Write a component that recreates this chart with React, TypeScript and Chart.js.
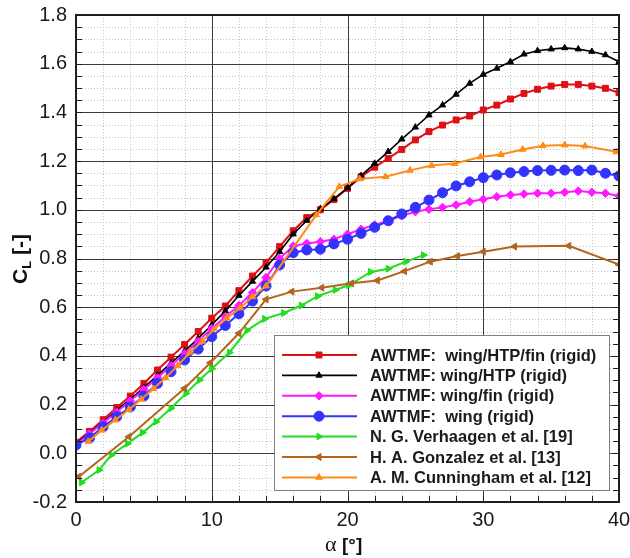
import React, { useEffect, useRef } from 'react';
import { Chart, registerables } from 'chart.js';

Chart.register(...registerables);

// ---------- data ----------
const ALPHA_AWTMF = [0, 1, 2, 3, 4, 5, 6, 7, 8, 9, 10, 11, 12, 13, 14, 15, 16, 17, 18, 19, 20, 21, 22, 23, 24, 25, 26, 27, 28, 29, 30, 31, 32, 33, 34, 35, 36, 37, 38, 39, 40];

const CL_WING_HTP_FIN = [0.045, 0.09, 0.138, 0.188, 0.235, 0.287, 0.342, 0.395, 0.447, 0.5, 0.555, 0.605, 0.668, 0.728, 0.783, 0.849, 0.914, 0.968, 1.0, 1.042, 1.088, 1.136, 1.175, 1.211, 1.248, 1.287, 1.321, 1.348, 1.369, 1.385, 1.41, 1.43, 1.455, 1.478, 1.495, 1.508, 1.515, 1.515, 1.508, 1.499, 1.481];

const CL_WING_HTP = [0.04, 0.083, 0.128, 0.177, 0.222, 0.27, 0.32, 0.37, 0.42, 0.472, 0.527, 0.585, 0.648, 0.706, 0.764, 0.828, 0.9, 0.956, 1.004, 1.045, 1.09, 1.14, 1.19, 1.239, 1.29, 1.339, 1.389, 1.43, 1.474, 1.519, 1.556, 1.581, 1.608, 1.639, 1.653, 1.66, 1.665, 1.66, 1.65, 1.636, 1.608];

const CL_WING_FIN = [0.035, 0.08, 0.125, 0.17, 0.215, 0.262, 0.31, 0.36, 0.41, 0.46, 0.513, 0.561, 0.607, 0.66, 0.722, 0.8, 0.851, 0.862, 0.869, 0.879, 0.9, 0.92, 0.938, 0.955, 0.975, 0.992, 1.002, 1.01, 1.02, 1.033, 1.043, 1.054, 1.061, 1.065, 1.068, 1.068, 1.072, 1.077, 1.072, 1.068, 1.057];

const CL_WING = [0.034, 0.063, 0.109, 0.15, 0.19, 0.235, 0.287, 0.335, 0.383, 0.428, 0.479, 0.525, 0.573, 0.625, 0.687, 0.773, 0.824, 0.835, 0.838, 0.86, 0.879, 0.903, 0.928, 0.955, 0.983, 1.01, 1.04, 1.07, 1.098, 1.115, 1.132, 1.143, 1.152, 1.157, 1.161, 1.162, 1.163, 1.161, 1.163, 1.15, 1.139];

const ALPHA_VERHAAGEN = [0.4, 1.7, 2.6, 3.8, 4.9, 5.9, 7.0, 8.1, 9.1, 10.0, 11.3, 12.6, 13.9, 15.3, 16.6, 17.8, 19.1, 20.1, 21.7, 23.0, 24.3, 25.6];
const CL_VERHAAGEN = [-0.12, -0.069, -0.007, 0.04, 0.085, 0.13, 0.185, 0.246, 0.301, 0.347, 0.414, 0.505, 0.552, 0.576, 0.607, 0.645, 0.671, 0.69, 0.745, 0.758, 0.787, 0.814];

const ALPHA_GONZALEZ = [0.2, 3.9, 8.0, 9.9, 12.0, 14.0, 15.9, 18.1, 20.3, 22.2, 24.2, 26.1, 28.1, 30.0, 32.3, 36.3, 40.0];
const CL_GONZALEZ = [-0.096, 0.068, 0.267, 0.372, 0.493, 0.632, 0.664, 0.68, 0.698, 0.71, 0.748, 0.787, 0.81, 0.828, 0.849, 0.852, 0.775];

const ALPHA_CUNNINGHAM = [0.9, 1.9, 2.9, 3.9, 4.8, 5.7, 6.6, 7.5, 8.4, 9.3, 10.2, 11.1, 12.1, 13.0, 14.0, 17.7, 19.4, 20.9, 22.8, 24.6, 26.2, 27.9, 29.8, 31.3, 32.9, 34.4, 36.0, 37.5, 39.8];
const CL_CUNNINGHAM = [0.048, 0.095, 0.137, 0.18, 0.222, 0.265, 0.31, 0.36, 0.415, 0.46, 0.51, 0.555, 0.597, 0.643, 0.687, 0.979, 1.095, 1.127, 1.136, 1.162, 1.182, 1.19, 1.217, 1.227, 1.248, 1.263, 1.266, 1.262, 1.238];

const SERIES_LABELS = [
  'AWTMF:  wing/HTP/fin (rigid)',
  'AWTMF: wing/HTP (rigid)',
  'AWTMF: wing/fin (rigid)',
  'AWTMF:  wing (rigid)',
  'N. G. Verhaagen et al. [19]',
  'H. A. Gonzalez et al. [13]',
  'A. M. Cunningham et al. [12]',
];

const X_MIN = 0;
const X_MAX = 40;
const Y_MIN = -0.2;
const Y_MAX = 1.8;

// ---------- styles ----------
type Style = { color: string; point: string; rot: number; r: number; lw: number };
const STYLES: Style[] = [
  { color: '#dd1016', point: 'rect', rot: 0, r: 4.2, lw: 2 },
  { color: '#000000', point: 'triangle', rot: 0, r: 3.6, lw: 1.6 },
  { color: '#ff19ff', point: 'rectRot', rot: 0, r: 4.2, lw: 2 },
  { color: '#3333ff', point: 'circle', rot: 0, r: 5, lw: 2 },
  { color: '#22dd22', point: 'triangle', rot: 90, r: 4, lw: 2 },
  { color: '#b3651e', point: 'triangle', rot: -90, r: 4, lw: 2 },
  { color: '#ff8c1a', point: 'triangle', rot: 0, r: 3.8, lw: 2 },
];

const SERIES_X = [ALPHA_AWTMF, ALPHA_AWTMF, ALPHA_AWTMF, ALPHA_AWTMF, ALPHA_VERHAAGEN, ALPHA_GONZALEZ, ALPHA_CUNNINGHAM];
const SERIES_Y = [CL_WING_HTP_FIN, CL_WING_HTP, CL_WING_FIN, CL_WING, CL_VERHAAGEN, CL_GONZALEZ, CL_CUNNINGHAM];

const FONT = '"Liberation Sans", Arial, Helvetica, sans-serif';

// target plot frame (pixels)
const AREA = { left: 76, top: 15, right: 619, bottom: 502 };

function drawMarker(ctx: CanvasRenderingContext2D, st: Style, x: number, y: number) {
  ctx.save();
  ctx.fillStyle = st.color;
  ctx.strokeStyle = st.color;
  ctx.lineWidth = 1;
  ctx.translate(x, y);
  ctx.rotate((st.rot * Math.PI) / 180);
  ctx.beginPath();
  const r = st.r;
  if (st.point === 'rect') {
    const s = Math.SQRT1_2 * r;
    ctx.rect(-s, -s, 2 * s, 2 * s);
  } else if (st.point === 'rectRot') {
    ctx.moveTo(-r, 0);
    ctx.lineTo(0, -r);
    ctx.lineTo(r, 0);
    ctx.lineTo(0, r);
    ctx.closePath();
  } else if (st.point === 'circle') {
    ctx.arc(0, 0, r, 0, Math.PI * 2);
  } else {
    for (let k = 0; k < 3; k++) {
      const a = -Math.PI / 2 + (k * 2 * Math.PI) / 3;
      const px = Math.cos(a) * r;
      const py = Math.sin(a) * r;
      if (k === 0) ctx.moveTo(px, py);
      else ctx.lineTo(px, py);
    }
    ctx.closePath();
  }
  ctx.fill();
  ctx.stroke();
  ctx.restore();
}

const framePlugin = {
  id: 'tecplotFrame',
  beforeDatasetsDraw(chart: any) {
    const { ctx, chartArea: a, scales } = chart;
    const xs = scales.x;
    const ys = scales.y;
    ctx.save();
    ctx.beginPath();
    ctx.rect(a.left, a.top, a.right - a.left, a.bottom - a.top);
    ctx.clip();
    ctx.strokeStyle = '#c6c6c6';
    ctx.lineWidth = 1;
    ctx.setLineDash([1, 2]);
    for (let v = X_MIN + 2; v < X_MAX; v += 2) {
      if (v % 10 === 0) continue;
      const p = Math.round(xs.getPixelForValue(v)) + 0.5;
      ctx.beginPath();
      ctx.moveTo(p, a.top);
      ctx.lineTo(p, a.bottom);
      ctx.stroke();
    }
    for (let k = 1; k < 40; k++) {
      if (k % 4 === 0) continue;
      const v = Y_MIN + k * 0.05;
      const p = Math.round(ys.getPixelForValue(v)) + 0.5;
      ctx.beginPath();
      ctx.moveTo(a.left, p);
      ctx.lineTo(a.right, p);
      ctx.stroke();
    }
    ctx.setLineDash([]);
    ctx.strokeStyle = '#3c3c3c';
    for (let v = 10; v < X_MAX; v += 10) {
      const p = Math.round(xs.getPixelForValue(v)) + 0.5;
      ctx.beginPath();
      ctx.moveTo(p, a.top);
      ctx.lineTo(p, a.bottom);
      ctx.stroke();
    }
    for (let k = 1; k < 10; k++) {
      const v = Y_MIN + k * 0.2;
      const p = Math.round(ys.getPixelForValue(v)) + 0.5;
      ctx.beginPath();
      ctx.moveTo(a.left, p);
      ctx.lineTo(a.right, p);
      ctx.stroke();
    }
    ctx.restore();
  },
  afterDatasetsDraw(chart: any) {
    const { ctx, chartArea: a, scales } = chart;
    const xs = scales.x;
    const ys = scales.y;
    ctx.save();
    ctx.strokeStyle = '#1e1e1e';
    ctx.lineWidth = 1;
    for (let k = 1; k < 40; k++) {
      const v = Y_MIN + k * 0.05;
      const p = Math.round(ys.getPixelForValue(v)) + 0.5;
      ctx.beginPath();
      ctx.moveTo(a.left, p);
      ctx.lineTo(a.left + 6, p);
      ctx.moveTo(a.right, p);
      ctx.lineTo(a.right - 6, p);
      ctx.stroke();
    }
    for (let v = X_MIN + 2; v < X_MAX; v += 2) {
      const p = Math.round(xs.getPixelForValue(v)) + 0.5;
      ctx.beginPath();
      ctx.moveTo(p, a.bottom);
      ctx.lineTo(p, a.bottom - 6);
      ctx.stroke();
    }
    ctx.lineWidth = 2;
    ctx.strokeStyle = '#1e1e1e';
    ctx.strokeRect(a.left, a.top, a.right - a.left, a.bottom - a.top);
    ctx.restore();
  },
  afterDraw(chart: any) {
    const { ctx } = chart;
    ctx.save();
    const bx = 274;
    const by = 335;
    const bw = 335;
    const bh = 155;
    ctx.fillStyle = '#ffffff';
    ctx.fillRect(bx, by, bw, bh);
    ctx.strokeStyle = '#808080';
    ctx.lineWidth = 1;
    ctx.strokeRect(bx + 0.5, by + 0.5, bw, bh);
    ctx.font = 'bold 16.5px ' + FONT;
    ctx.textBaseline = 'middle';
    ctx.textAlign = 'left';
    for (let i = 0; i < SERIES_LABELS.length; i++) {
      const st = STYLES[i];
      const yy = 355 + i * 20.4;
      ctx.strokeStyle = st.color;
      ctx.lineWidth = st.lw;
      ctx.beginPath();
      ctx.moveTo(282, yy);
      ctx.lineTo(357, yy);
      ctx.stroke();
      drawMarker(ctx, st, 319, yy);
      ctx.fillStyle = '#1a1a1a';
      ctx.fillText(SERIES_LABELS[i], 370, yy + 1);
    }
    ctx.save();
    ctx.translate(20, 259);
    ctx.rotate(-Math.PI / 2);
    ctx.fillStyle = '#111';
    ctx.textBaseline = 'alphabetic';
    const bigFont = 'bold 21px ' + FONT;
    const smallFont = 'bold 13px ' + FONT;
    ctx.font = bigFont;
    const wC = ctx.measureText('C').width;
    const wB = ctx.measureText(' [-]').width;
    ctx.font = smallFont;
    const wL = ctx.measureText('L').width;
    const total = wC + wL + wB;
    let sx = -total / 2;
    ctx.font = bigFont;
    ctx.fillText('C', sx, 7);
    sx += wC;
    ctx.font = smallFont;
    ctx.fillText('L', sx, 11);
    sx += wL;
    ctx.font = bigFont;
    ctx.fillText(' [-]', sx, 7);
    ctx.restore();
    ctx.fillStyle = '#111';
    ctx.textBaseline = 'alphabetic';
    ctx.textAlign = 'left';
    ctx.font = '22px "Liberation Serif", "Times New Roman", serif';
    ctx.fillText('α', 325, 551);
    ctx.font = 'bold 19px ' + FONT;
    ctx.fillText('[°]', 342, 551);
    ctx.restore();
  },
};

export default function App() {
  const canvasRef = useRef<HTMLCanvasElement | null>(null);

  useEffect(() => {
    const canvas = canvasRef.current;
    if (!canvas) return;
    const datasets = SERIES_LABELS.map((label, i) => {
      const st = STYLES[i];
      return {
        label,
        data: SERIES_X[i].map((x, j) => ({ x, y: SERIES_Y[i][j] })),
        borderColor: st.color,
        backgroundColor: st.color,
        borderWidth: st.lw,
        pointStyle: st.point,
        pointRotation: st.rot,
        pointRadius: st.r,
        pointBorderWidth: 1,
        pointBackgroundColor: st.color,
        pointBorderColor: st.color,
        tension: 0,
        fill: false,
        order: SERIES_LABELS.length - i,
      };
    });
    const chart = new Chart(canvas, {
      type: 'line',
      data: { datasets },
      plugins: [framePlugin],
      options: {
        animation: false,
        responsive: false,
        maintainAspectRatio: false,
        devicePixelRatio: 1,
        layout: { padding: { left: 0, top: 0, right: 0, bottom: 0 } },
        plugins: { legend: { display: false }, tooltip: { enabled: false } },
        scales: {
          x: {
            type: 'linear',
            min: X_MIN,
            max: X_MAX,
            grid: { display: false, drawTicks: false },
            border: { display: false },
            ticks: {
              stepSize: 10,
              padding: 6,
              color: '#1a1a1a',
              font: { family: FONT, size: 20 },
              maxRotation: 0,
              autoSkip: false,
            },
            afterFit: (scale: any) => {
              scale.height = 558 - AREA.bottom;
              scale.paddingLeft = 0;
              scale.paddingRight = 630 - AREA.right;
            },
          },
          y: {
            type: 'linear',
            min: Y_MIN,
            max: Y_MAX,
            grid: { display: false, drawTicks: false },
            border: { display: false },
            ticks: {
              stepSize: 0.2,
              padding: 9,
              color: '#1a1a1a',
              font: { family: FONT, size: 20 },
              autoSkip: false,
              callback: (v: any) => {
                const n = Number(v);
                return (Math.abs(n) < 1e-9 ? 0 : n).toFixed(1);
              },
            },
            afterFit: (scale: any) => {
              scale.width = AREA.left;
              scale.paddingTop = AREA.top;
              scale.paddingBottom = 0;
            },
          },
        },
      },
    });
    return () => chart.destroy();
  }, []);

  return (
    <div style={{ position: 'fixed', left: 0, top: 0, width: 630, height: 558, background: '#fff' }}>
      <canvas ref={canvasRef} width={630} height={558} style={{ width: 630, height: 558, display: 'block' }} />
    </div>
  );
}
